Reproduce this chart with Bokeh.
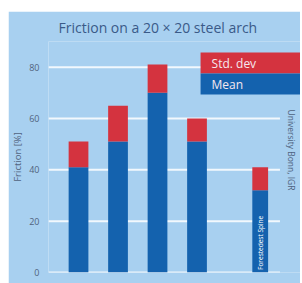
import math
from bokeh.plotting import figure
from bokeh.models import Label, Range1d, ColumnDataSource, FixedTicker
from bokeh.core.properties import value
from bokeh.embed import file_html
from bokeh.resources import INLINE

# ---- data ----
groups = ["arch", "arch", "arch", "arch", "spine"]
mean = [41, 51, 70, 51, 32]
std_dev = [10, 14, 11, 9, 9]
bar_texts = ["", "", "", "", "Forestedest Spine"]
y_ticks = [0, 20, 40, 60, 80]
title_text = "Friction on a 20 \u00d7 20 steel arch"
y_label = "Friction [%]"
legend_labels = ["Std. dev", "Mean"]
credit = "University Bonn, IGR"

BG = "#a8d0f0"
BLUE = "#1462ae"
RED = "#d4333f"
TXT = "#51637e"

# x position from index, with an extra gap before the second group
xs = []
pos = 0.0
prev = None
for g in groups:
    pos += 1.0 if prev is None or g == prev else 1.6
    xs.append(pos)
    prev = g
widths = [0.5 if g == "arch" else 0.4 for g in groups]
tops = [m + s for m, s in zip(mean, std_dev)]

src = ColumnDataSource(dict(x=xs, mean=mean, top=tops, w=widths,
                            zero=[0] * len(xs), txt=bar_texts,
                            ty=[1] * len(xs)))

x_start, x_end = 0.24, 6.62
p = figure(width=292, height=272, output_backend="svg", toolbar_location=None,
           x_range=Range1d(x_start, x_end), y_range=Range1d(0, 90),
           min_border_left=40, min_border_right=0, min_border_top=29,
           min_border_bottom=11, title=title_text)
p.styles = {"margin-left": "8px", "margin-top": "11px"}
p.background_fill_color = BG
p.border_fill_color = BG
p.outline_line_color = None

p.title.align = "left"
p.title.offset = 10
p.title.standoff = 9
p.title.text_font = "Open Sans"
p.title.text_font_size = "14px"
p.title.text_font_style = "normal"
p.title.text_color = "#3a5a88"

p.xaxis.visible = False
p.xgrid.visible = False
p.ygrid.visible = False

# horizontal grid lines, ending just right of the last bar
grid_end = xs[-1] + 0.5
p.segment(x0=[x_start] * len(y_ticks), x1=[grid_end] * len(y_ticks),
          y0=y_ticks, y1=y_ticks, line_color="white", line_width=2,
          line_alpha=0.85)

ya = p.yaxis[0]
ya.ticker = FixedTicker(ticks=y_ticks)
ya.axis_line_color = None
ya.major_tick_line_color = None
ya.minor_tick_line_color = None
ya.major_label_text_font = "Open Sans"
ya.major_label_text_font_size = "9px"
ya.major_label_text_color = TXT
ya.major_label_standoff = 3
ya.axis_label = y_label
ya.axis_label_text_font = "Open Sans"
ya.axis_label_text_font_size = "9.5px"
ya.axis_label_text_font_style = "normal"
ya.axis_label_text_color = TXT
ya.axis_label_standoff = 2

p.vbar(x="x", width="w", bottom="zero", top="mean", source=src,
       fill_color=BLUE, line_color=None)
p.vbar(x="x", width="w", bottom="mean", top="top", source=src,
       fill_color=RED, line_color=None)
p.text(x="x", y="ty", text="txt", source=src, angle=math.pi / 2,
       text_align="left", text_baseline="middle", text_color="white",
       text_font=value("Open Sans"), text_font_size="6.5px")

# legend boxes (right padding makes both boxes run to the right edge)
for lbl, col, yv, rpad in zip(legend_labels, [RED, BLUE], [81.6, 73.4],
                              [44, 58]):
    p.add_layout(Label(x=4.09, y=yv, text=lbl, text_align="left",
                       text_baseline="middle", text_color="#f4e8ee",
                       text_font="Open Sans", text_font_size="12px",
                       background_fill_color=col,
                       padding=dict(top=2, right=rpad, bottom=2, left=11)))

p.add_layout(Label(x=6.39, y=63.5, text=credit, angle=-math.pi / 2,
                   text_align="left", text_baseline="middle",
                   text_color="#4f6380", text_font="Open Sans",
                   text_font_size="8.5px"))

open("out.html", "w").write(file_html(p, INLINE))
